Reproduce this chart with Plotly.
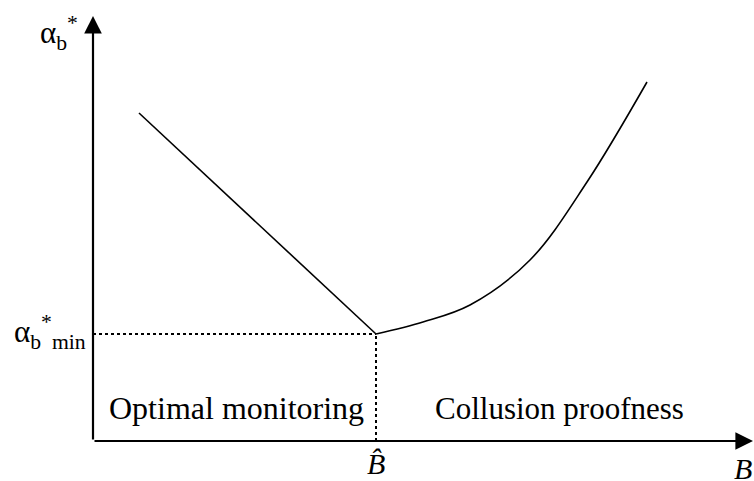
import plotly.graph_objects as go

# Conceptual diagram data (units: arbitrary, origin at axis corner)
b_hat = 283
alpha_min = 107
left_x = [46, 283]
left_y = [328, 107]
curve_x = [283, 330, 377, 437, 494, 554]
curve_y = [107, 119, 136, 181, 259, 359]
x_max = 660
y_max = 425

FONT = "Liberation Serif, Times New Roman, serif"

fig = go.Figure()
fig.add_trace(go.Scatter(x=left_x, y=left_y, mode="lines",
                         line=dict(color="black", width=1.6), hoverinfo="skip"))
fig.add_trace(go.Scatter(x=curve_x, y=curve_y, mode="lines",
                         line=dict(color="black", width=1.6, shape="spline", smoothing=1.0),
                         hoverinfo="skip"))
# dotted guides
fig.add_trace(go.Scatter(x=[0, b_hat], y=[alpha_min, alpha_min], mode="lines",
                         line=dict(color="black", width=2, dash="dot"), hoverinfo="skip"))
fig.add_trace(go.Scatter(x=[b_hat, b_hat], y=[0, alpha_min], mode="lines",
                         line=dict(color="black", width=2, dash="dot"), hoverinfo="skip"))

# axes with arrows
fig.add_annotation(x=0, y=y_max, ax=0, ay=0, xref="x", yref="y", axref="x", ayref="y",
                   showarrow=True, arrowhead=2, arrowsize=1.6, arrowwidth=2.2,
                   arrowcolor="black", text="")
fig.add_annotation(x=x_max, y=0, ax=0, ay=0, xref="x", yref="y", axref="x", ayref="y",
                   showarrow=True, arrowhead=2, arrowsize=1.6, arrowwidth=2.2,
                   arrowcolor="black", text="")

def txt(x, y, s, size=31, xanchor="center", yanchor="middle"):
    fig.add_annotation(x=x, y=y, xref="x", yref="y", text=s, showarrow=False,
                       font=dict(family=FONT, size=size, color="black"),
                       xanchor=xanchor, yanchor=yanchor)

txt(-55, 408, "α<sub>b</sub><sup>*</sup>", size=31, xanchor="left")
txt(-81, alpha_min + 2, "α<sub>b</sub><sup>*</sup><sub>min</sub>", size=31, xanchor="left")
txt(143, 33, "Optimal monitoring", size=32)
txt(466, 33, "Collusion proofness", size=31)
txt(b_hat, -22, "<i>B\u0302</i>", size=30)
txt(639, -27, "<i>B</i>", size=30, xanchor="left")

fig.update_xaxes(range=[-93, 661], visible=False)
fig.update_yaxes(range=[-40, 441], visible=False)
fig.update_layout(width=754, height=481,
                  margin=dict(l=0, r=0, t=0, b=0, autoexpand=False),
                  plot_bgcolor="white", paper_bgcolor="white", showlegend=False)
fig.write_html("out.html", config={"displayModeBar": False},
               post_script="document.body.style.margin='0';document.body.style.overflow='hidden';")
